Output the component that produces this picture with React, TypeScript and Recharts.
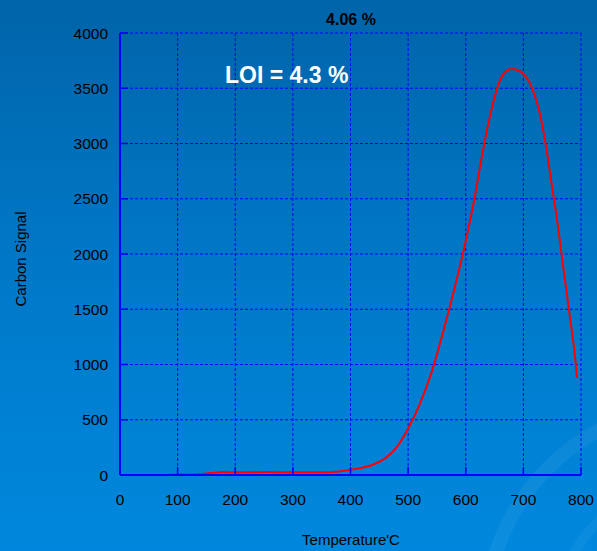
import { LineChart, Line, XAxis, YAxis, CartesianGrid } from 'recharts'

// temperature (°C) and carbon signal
const temps = [
  79, 100, 128, 157, 180, 200, 255, 300, 353, 376, 400, 420, 440, 460, 480, 500, 520, 540, 560,
  580, 600, 615, 630, 640, 650, 660, 670, 680, 690, 700, 710, 720, 730, 740, 750, 760, 770, 780,
  790, 793,
]
const signals = [
  0, 5, 5, 18, 27, 24, 27, 24, 24, 30, 48, 65, 95, 150, 250, 420, 640, 920, 1280,
  1680, 2120, 2500, 2940, 3200, 3420, 3580, 3655, 3675, 3665, 3630, 3560, 3430, 3240, 2950, 2600, 2250, 1850, 1460,
  1050, 880,
]
const xTicks = [0, 100, 200, 300, 400, 500, 600, 700, 800]
const yTicks = [0, 500, 1000, 1500, 2000, 2500, 3000, 3500, 4000]

const title = '4.06 %'
const loiText = 'LOI = 4.3 %'

const data = temps.map((t, i) => ({ temp: t, signal: signals[i] }))

const FONT = '"Liberation Sans", Arial, sans-serif'
const BLUE = '#0000ff'

function LeftTick({ x, y, payload }: any) {
  return (
    <g>
      <line x1={x} x2={x + 8} y1={y} y2={y} stroke={BLUE} strokeWidth={1.5} />
      <text x={x - 12} y={y} dy={5.5} textAnchor="end" fontSize={15.5} fontFamily={FONT} fill="#000">
        {payload.value}
      </text>
    </g>
  )
}

function RightTick({ x, y }: any) {
  return <line x1={x} x2={x - 8} y1={y} y2={y} stroke={BLUE} strokeWidth={1.5} />
}

function BottomTick({ x, y, payload }: any) {
  return (
    <g>
      <line x1={x} x2={x} y1={y} y2={y - 8} stroke={BLUE} strokeWidth={1.5} />
      <text x={x} y={y + 30} textAnchor="middle" fontSize={15.5} fontFamily={FONT} fill="#000">
        {payload.value}
      </text>
    </g>
  )
}

export default function App() {
  return (
    <div
      style={{
        position: 'absolute',
        left: 0,
        top: 0,
        width: 597,
        height: 551,
        background: 'linear-gradient(180deg, #0064a9 0%, #0077c6 45%, #0088de 100%)',
        overflow: 'hidden',
        fontFamily: FONT,
      }}
    >
      {/* faint decorative arcs of the slide background */}
      <svg width={597} height={551} style={{ position: 'absolute', left: 0, top: 0 }}>
        <circle cx={700} cy={620} r={215} fill="none" stroke="rgba(255,255,255,0.05)" strokeWidth={14} />
        <circle cx={720} cy={640} r={170} fill="none" stroke="rgba(255,255,255,0.04)" strokeWidth={10} />
      </svg>

      <div style={{ position: 'absolute', left: 0, top: 0 }}>
        <LineChart width={597} height={551} data={data} margin={{ top: 33, right: 16, bottom: 46, left: 0 }}>
          <CartesianGrid stroke={BLUE} strokeDasharray="3 2" strokeWidth={1} />
          <XAxis
            dataKey="temp"
            type="number"
            domain={[0, 800]}
            ticks={xTicks}
            height={30}
            tickSize={0}
            tickMargin={0}
            tickLine={false}
            axisLine={{ stroke: BLUE, strokeWidth: 2 }}
            tick={<BottomTick />}
            interval={0}
          />
          <XAxis
            xAxisId="top"
            orientation="top"
            type="number"
            domain={[0, 800]}
            ticks={xTicks}
            height={0}
            tick={false}
            tickLine={false}
            axisLine={{ stroke: BLUE, strokeWidth: 2 }}
          />
          <YAxis
            type="number"
            domain={[0, 4000]}
            ticks={yTicks}
            width={120}
            tickSize={0}
            tickMargin={0}
            tickLine={false}
            axisLine={{ stroke: BLUE, strokeWidth: 2 }}
            tick={<LeftTick />}
            interval={0}
          />
          <YAxis
            yAxisId="right"
            orientation="right"
            type="number"
            domain={[0, 4000]}
            ticks={yTicks}
            width={0}
            tickSize={0}
            tickMargin={0}
            tickLine={false}
            axisLine={{ stroke: BLUE, strokeWidth: 2 }}
            tick={<RightTick />}
            interval={0}
          />
          <Line
            type="monotone"
            dataKey="signal"
            stroke="#ff0000"
            strokeWidth={2}
            dot={false}
            isAnimationActive={false}
          />
        </LineChart>
      </div>

      <svg width={597} height={551} style={{ position: 'absolute', left: 0, top: 0, pointerEvents: 'none' }}>
        <text x={351} y={25} textAnchor="middle" fontSize={16} fontWeight="bold" fontFamily={FONT} fill="#000">
          {title}
        </text>
        <text x={225} y={83} fontSize={23} fontWeight="bold" fontFamily={FONT} fill="#fff">
          {loiText}
        </text>
        <text
          x={0}
          y={0}
          transform="translate(26 259) rotate(-90)"
          textAnchor="middle"
          fontSize={15}
          fontFamily={FONT}
          fill="#000"
        >
          Carbon Signal
        </text>
        <text x={351} y={545} textAnchor="middle" fontSize={15} fontFamily={FONT} fill="#000">
          Temperature'C
        </text>
      </svg>
    </div>
  )
}
